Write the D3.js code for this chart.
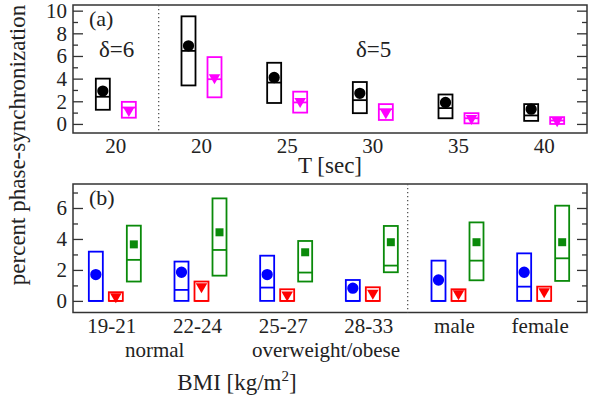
<!DOCTYPE html>
<html>
<head>
<meta charset="utf-8">
<script src="https://cdn.jsdelivr.net/npm/d3@7"></script>
<style>
  body { margin: 0; background: #fff; }
  text { font-family: "Liberation Serif", "DejaVu Serif", serif; fill: #222; }
</style>
</head>
<body>
<div id="drawing"></div>
<script>
// panel (a): period T, two groups (delta=6 first, delta=5 after)
const tLabels = ["20", "20", "25", "30", "35", "40"];
const blackMean   = [2.9, 6.9, 4.1, 2.7, 1.9, 1.3];
const blackMedian = [2.4, 6.45, 3.65, 2.1, 1.4, 0.75];
const blackLow    = [1.25, 3.4, 1.85, 0.95, 0.5, 0.27];
const blackHigh   = [4.0, 9.5, 5.4, 3.7, 2.6, 1.75];
const magentaMean   = [1.2, 4.1, 2.0, 1.0, 0.5, 0.3];
const magentaMedian = [1.45, 3.95, 1.9, 1.3, 0.5, 0.3];
const magentaLow    = [0.55, 2.35, 1.0, 0.35, 0.05, 0.0];
const magentaHigh   = [1.95, 5.9, 2.85, 1.75, 0.95, 0.6];

// panel (b): BMI groups and sex
const bmiLabels = ["19-21", "22-24", "25-27", "28-33", "male", "female"];
const blueMean   = [1.7, 1.85, 1.7, 0.82, 1.35, 1.85];
const blueMedian = [0, 0.71, 0.86, 0, 0, 0.92];
const blueLow    = [0, 0, 0, 0, 0, 0];
const blueHigh   = [3.18, 2.54, 2.92, 1.35, 2.6, 3.07];
const redMean   = [0.28, 0.92, 0.39, 0.5, 0.47, 0.6];
const redMedian = [0, 0, 0, 0, 0, 0];
const redLow    = [0, 0, 0, 0, 0, 0];
const redHigh   = [0.56, 1.25, 0.75, 0.88, 0.75, 0.92];
const greenMean   = [3.65, 4.43, 3.14, 3.79, 3.79, 3.79];
const greenMedian = [2.65, 3.29, 1.83, 2.28, 2.6, 2.75];
const greenLow    = [1.25, 1.63, 1.25, 1.85, 1.33, 1.29];
const greenHigh   = [4.86, 6.62, 3.87, 4.84, 5.07, 6.15];

const topTicks = [0, 2, 4, 6, 8, 10];
const topMinor = [1, 3, 5, 7, 9];
const botTicks = [0, 2, 4, 6];
const botMinor = [1, 3, 5, 7];

const width = 592;
const height = 400;
const left = 73, right = 587;
const boxW = 14;
const serif = '"Liberation Serif", "DejaVu Serif", serif';

const svg = d3.select("#drawing").append("svg")
  .attr("width", width)
  .attr("height", height);

// shared x positions for both panels
const xScale = d3.scaleBand()
  .domain(d3.range(6))
  .range([left, right]);
const cx = (i) => xScale(i) + xScale.bandwidth() / 2;

const yTop = d3.scaleLinear().domain([-0.8, 10.5]).range([133, 5]);
const yBot = d3.scaleLinear().domain([-0.75, 7.55]).range([312.5, 184]);

function styleText(s) {
  s.attr("font-family", serif).attr("font-size", 21);
  s.selectAll("text").style("font-family", serif).style("font-size", "21px").attr("fill", "#222");
}

function yAxes(y, major, minor) {
  const g = svg.append("g");
  g.append("g").attr("transform", `translate(${left},0)`)
    .call(d3.axisLeft(y).tickValues(major).tickSize(-10).tickPadding(6))
    .call(s => s.select(".domain").remove())
    .call(styleText);
  g.append("g").attr("transform", `translate(${left},0)`)
    .call(d3.axisLeft(y).tickValues(minor).tickSize(-5).tickFormat(""))
    .call(s => s.select(".domain").remove());
  g.append("g").attr("transform", `translate(${right},0)`)
    .call(d3.axisRight(y).tickValues(major).tickSize(-10).tickFormat(""))
    .call(s => s.select(".domain").remove());
  g.append("g").attr("transform", `translate(${right},0)`)
    .call(d3.axisRight(y).tickValues(minor).tickSize(-5).tickFormat(""))
    .call(s => s.select(".domain").remove());
  g.selectAll(".tick line").attr("stroke", "#333").attr("stroke-width", 1.3);
}

function frame(y) {
  svg.append("rect")
    .attr("x", left).attr("y", y.range()[1])
    .attr("width", right - left).attr("height", y.range()[0] - y.range()[1])
    .attr("fill", "none").attr("stroke", "#333").attr("stroke-width", 1.5);
}

function boxes(y, mean, median, low, high, dx, color, symbol) {
  const g = svg.append("g");
  const idx = d3.range(mean.length);
  g.selectAll("rect").data(idx).join("rect")
    .attr("x", i => cx(i) + dx - boxW / 2)
    .attr("y", i => y(high[i]))
    .attr("width", boxW)
    .attr("height", i => y(low[i]) - y(high[i]))
    .attr("fill", "none").attr("stroke", color).attr("stroke-width", 1.8);
  g.selectAll("line").data(idx).join("line")
    .attr("x1", i => cx(i) + dx - boxW / 2)
    .attr("x2", i => cx(i) + dx + boxW / 2)
    .attr("y1", i => y(median[i])).attr("y2", i => y(median[i]))
    .attr("stroke", color).attr("stroke-width", 1.8);
  g.selectAll("path").data(idx).join("path")
    .attr("transform", i => `translate(${cx(i) + dx},${y(mean[i])})` + (symbol.rot ? " rotate(180)" : ""))
    .attr("d", d3.symbol().type(symbol.type).size(symbol.size))
    .attr("fill", color);
}

const circle = {type: d3.symbolCircle, size: 100};
const triDown = {type: d3.symbolTriangle, size: 58, rot: true};
const square = {type: d3.symbolSquare, size: 64};

// ---- panel (a)
frame(yTop);
yAxes(yTop, topTicks, topMinor);
svg.append("line")
  .attr("x1", (cx(0) + cx(1)) / 2).attr("x2", (cx(0) + cx(1)) / 2)
  .attr("y1", yTop.range()[1]).attr("y2", yTop.range()[0])
  .attr("stroke", "#555").attr("stroke-width", 1.3).attr("stroke-dasharray", "1.3,2.7");
boxes(yTop, blackMean, blackMedian, blackLow, blackHigh, -13, "#000", circle);
boxes(yTop, magentaMean, magentaMedian, magentaLow, magentaHigh, 13, "#ff00ff", triDown);

svg.append("g").attr("transform", `translate(0,${yTop.range()[0]})`)
  .call(d3.axisBottom(xScale).tickSize(0).tickPadding(5).tickFormat(i => tLabels[i]))
  .call(s => s.select(".domain").remove())
  .call(styleText);

svg.append("text").attr("x", 89).attr("y", 26).style("font-size", "22px").text("(a)");
svg.append("text").attr("x", 99).attr("y", 57).style("font-size", "23px").text("δ=6");
svg.append("text").attr("x", 356).attr("y", 57).style("font-size", "23px").text("δ=5");
svg.append("text").attr("x", 330).attr("y", 173).attr("text-anchor", "middle")
  .style("font-size", "23px").text("T [sec]");

// ---- panel (b)
frame(yBot);
yAxes(yBot, botTicks, botMinor);
const sepX = (cx(3) + cx(4)) / 2 - 8;
svg.append("line")
  .attr("x1", sepX).attr("x2", sepX)
  .attr("y1", yBot.range()[1]).attr("y2", yBot.range()[0])
  .attr("stroke", "#555").attr("stroke-width", 1.3).attr("stroke-dasharray", "1.3,2.7");
boxes(yBot, blueMean, blueMedian, blueLow, blueHigh, -20, "#0000ff", circle);
boxes(yBot, redMean, redMedian, redLow, redHigh, 0, "#ff0000", triDown);
boxes(yBot, greenMean, greenMedian, greenLow, greenHigh, 18, "#0a8a0a", square);

svg.append("g").attr("transform", `translate(-4,${yBot.range()[0]})`)
  .call(d3.axisBottom(xScale).tickSize(0).tickPadding(6).tickFormat(i => bmiLabels[i]))
  .call(s => s.select(".domain").remove())
  .call(styleText);

svg.append("text").attr("x", (cx(0) + cx(1)) / 2 - 4).attr("y", 357)
  .attr("text-anchor", "middle").style("font-size", "21px").text("normal");
svg.append("text").attr("x", (cx(2) + cx(3)) / 2 - 4).attr("y", 357)
  .attr("text-anchor", "middle").style("font-size", "21px").text("overweight/obese");
svg.append("text").attr("x", 89).attr("y", 205).style("font-size", "22px").text("(b)");

const bmi = svg.append("text").attr("x", 237).attr("y", 390).attr("text-anchor", "middle")
  .style("font-size", "23px");
bmi.append("tspan").text("BMI [kg/m");
bmi.append("tspan").attr("dy", -9).style("font-size", "15px").text("2");
bmi.append("tspan").attr("dy", 9).text("]");

// shared y label
svg.append("text")
  .attr("transform", "translate(25,145) rotate(-90)")
  .attr("text-anchor", "middle")
  .style("font-size", "23px")
  .text("percent phase-synchronization");
</script>
</body>
</html>
